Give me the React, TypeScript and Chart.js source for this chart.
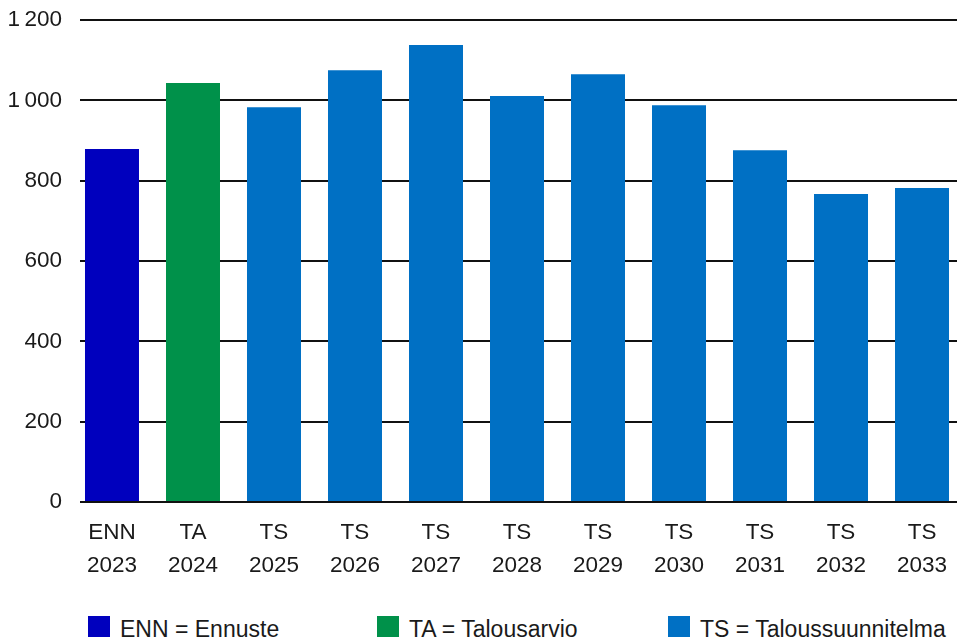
import React, { useEffect, useRef } from "react";
import { Chart, registerables } from "chart.js";

Chart.register(...registerables);

const categories: string[][] = [
  ["ENN", "2023"],
  ["TA", "2024"],
  ["TS", "2025"],
  ["TS", "2026"],
  ["TS", "2027"],
  ["TS", "2028"],
  ["TS", "2029"],
  ["TS", "2030"],
  ["TS", "2031"],
  ["TS", "2032"],
  ["TS", "2033"],
];
const values: number[] = [879, 1043, 983, 1075, 1138, 1011, 1065, 988, 876, 767, 782];
const kinds: string[] = ["ENN", "TA", "TS", "TS", "TS", "TS", "TS", "TS", "TS", "TS", "TS"];
const legendLabels: string[] = ["ENN = Ennuste", "TA = Talousarvio", "TS = Taloussuunnitelma"];
const legendKinds: string[] = ["ENN", "TA", "TS"];
const colors: Record<string, string> = {
  ENN: "#0000BE",
  TA: "#00914A",
  TS: "#0070C4",
};
const yTicks = { min: 0, max: 1200, step: 200 };

const FONT = "'Liberation Sans', Arial, sans-serif";

function fmt(v: number): string {
  const s = String(Math.round(v));
  return s.replace(/\B(?=(\d{3})+(?!\d))/g, "\u2009");
}

export default function App() {
  const ref = useRef<HTMLCanvasElement | null>(null);

  useEffect(() => {
    document.body.style.margin = "0";
    const canvas = ref.current;
    if (!canvas) return;
    const chart = new Chart(canvas, {
      type: "bar",
      data: {
        datasets: [
          {
            data: values.map((v, i) => ({ x: i, y: v })),
            backgroundColor: kinds.map((k) => colors[k]),
            borderWidth: 0,
            barPercentage: 54 / 81,
            categoryPercentage: 1,
          },
        ],
      },
      options: {
        animation: false,
        responsive: false,
        maintainAspectRatio: false,
        devicePixelRatio: 1,
        layout: { padding: { top: 20, left: 0, right: 0, bottom: 0 } },
        plugins: {
          legend: { display: false },
          tooltip: { enabled: false },
        },
        scales: {
          x: {
            type: "linear",
            offset: false,
            min: -0.395,
            max: 10.432,
            grid: { display: false, offset: false },
            border: { display: false },
            afterFit: (scale: any) => {
              scale.height = 98;
              scale.paddingLeft = 0;
              scale.paddingRight = 0;
            },
            ticks: {
              stepSize: 1,
              includeBounds: false,
              autoSkip: false,
              maxRotation: 0,
              padding: 6,
              color: "#1a1a1a",
              font: { family: FONT, size: 22.5, lineHeight: 1.47 },
              callback: (v: any) => {
                const n = Number(v);
                if (Number.isInteger(n) && n >= 0 && n < categories.length) return categories[n];
                return "";
              },
            },
          },
          y: {
            min: yTicks.min,
            max: yTicks.max,
            grid: { color: "#111", lineWidth: 2, drawTicks: false },
            border: { display: false },
            afterFit: (scale: any) => {
              scale.width = 80;
              scale.paddingTop = 0;
              scale.paddingBottom = 0;
            },
            ticks: {
              stepSize: yTicks.step,
              padding: 18,
              color: "#1a1a1a",
              font: { family: FONT, size: 22.5 },
              callback: (v: any) => fmt(Number(v)),
            },
          },
        },
      } as any,
    });
    return () => chart.destroy();
  }, []);

  const legendLeft = [88, 377, 668];

  return (
    <div style={{ position: "relative", width: 957, height: 637, overflow: "hidden", background: "#fff" }}>
      <canvas ref={ref} width={957} height={600} style={{ position: "absolute", left: 0, top: 0, width: 957, height: 600 }} />
      {legendLabels.map((lab, i) => (
        <div key={lab} style={{ position: "absolute", left: legendLeft[i], top: 616, height: 22 }}>
          <div style={{ position: "absolute", left: 0, top: 0, width: 22, height: 22, background: colors[legendKinds[i]] }} />
          <span
            style={{
              position: "absolute",
              left: 32,
              top: 0,
              whiteSpace: "nowrap",
              fontFamily: FONT,
              fontSize: 23,
              lineHeight: "26px",
              color: "#1a1a1a",
            }}
          >
            {lab}
          </span>
        </div>
      ))}
    </div>
  );
}
